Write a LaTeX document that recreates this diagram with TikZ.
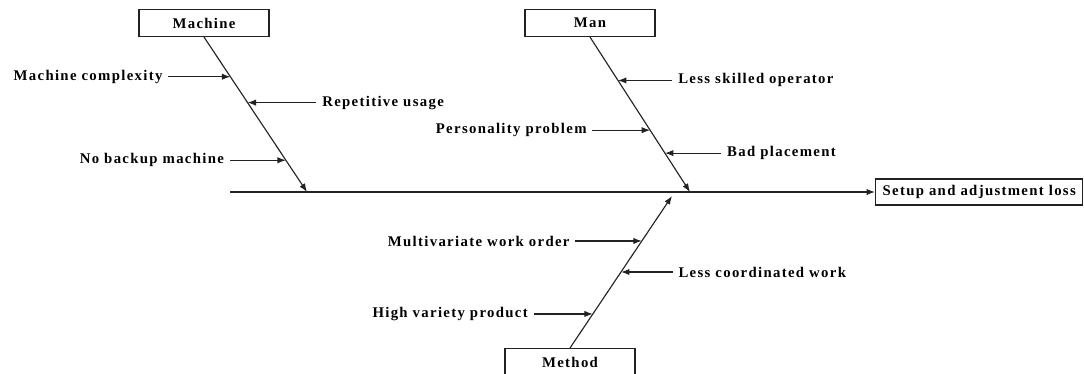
\documentclass[tikz,border=0pt]{standalone}
\usepackage{fontspec}
\newfontfamily\labfont[LetterSpace=9]{Liberation Serif}
\usetikzlibrary{positioning,arrows.meta,calc}
\definecolor{cLine}{HTML}{222222}

\begin{document}
\begin{tikzpicture}[x=0.025cm,y=-0.025cm,
      box/.style={draw=cLine,line width=0.8pt,minimum width=3.25cm,minimum height=0.675cm,
                  inner sep=2pt,font=\labfont\bfseries\fontsize{10.5}{12}\selectfont},
      cause/.style={inner xsep=4pt,inner ysep=1pt,font=\labfont\bfseries\fontsize{10.5}{12}\selectfont},
      arr/.style={draw=cLine,line width=0.8pt,-{Latex[length=6pt,width=4.5pt]}}]
    \useasboundingbox (0,0) rectangle (1084,374);
    \node[box] (machine) at (204,23) {Machine};
    \node[box] (man) at (590,23) {Man};
    \node[box,anchor=north] (method) at (570,348) {Method};
    \node[box,anchor=west,minimum width=0pt,minimum height=0.65cm,inner xsep=5pt] (effect) at (875,192)
      {Setup and adjustment loss};
    \coordinate (tail) at (230,192);
    \coordinate (mj) at (307,192);
    \coordinate (nj) at (690,192);
    \coordinate (dj) at (672,196);
    \draw[arr] (tail) -- (effect.west);
    \draw[arr] (machine.south) -- (mj);
    \draw[arr] (man.south) -- (nj);
    \draw[arr] (method.north) -- (dj);
    \coordinate (m1) at ($(machine.south)!0.256!(mj)$);
    \coordinate (m2) at ($(machine.south)!0.423!(mj)$);
    \coordinate (m3) at ($(machine.south)!0.795!(mj)$);
    \node[cause,left=1.55cm of m1] (mc) {Machine complexity};
    \node[cause,right=1.72cm of m2] (ru) {Repetitive usage};
    \node[cause,left=1.4cm of m3] (nb) {No backup machine};
    \draw[arr] (mc) -- (m1);
    \draw[arr] (ru) -- (m2);
    \draw[arr] (nb) -- (m3);
    \coordinate (a1) at ($(man.south)!0.28!(nj)$);
    \coordinate (a2) at ($(man.south)!0.601!(nj)$);
    \coordinate (a3) at ($(man.south)!0.749!(nj)$);
    \node[cause,right=1.36cm of a1] (ls) {Less skilled operator};
    \node[cause,left=1.44cm of a2] (pp) {Personality problem};
    \node[cause,right=1.41cm of a3] (bp) {Bad placement};
    \draw[arr] (ls) -- (a1);
    \draw[arr] (pp) -- (a2);
    \draw[arr] (bp) -- (a3);
    \coordinate (d1) at ($(method.north)!0.704!(dj)$);
    \coordinate (d2) at ($(method.north)!0.5!(dj)$);
    \coordinate (d3) at ($(method.north)!0.224!(dj)$);
    \node[cause,left=1.66cm of d1] (mw) {Multivariate work order};
    \node[cause,right=1.29cm of d2] (lc) {Less coordinated work};
    \node[cause,left=1.48cm of d3] (hv) {High variety product};
    \draw[arr] (mw) -- (d1);
    \draw[arr] (lc) -- (d2);
    \draw[arr] (hv) -- (d3);
  \end{tikzpicture}
\end{document}
